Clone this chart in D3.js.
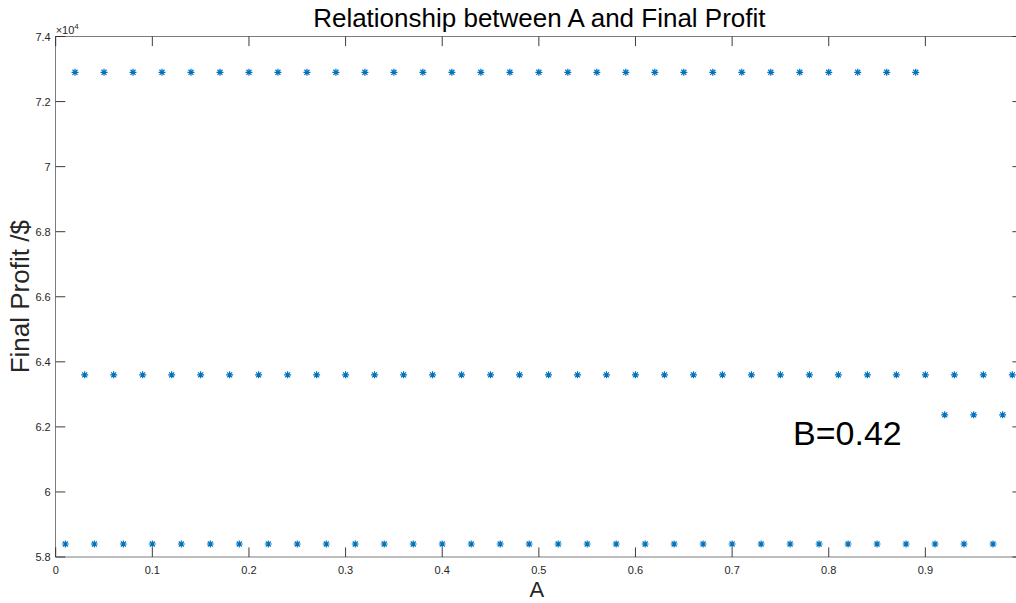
<!DOCTYPE html>
<html>
<head>
<meta charset="utf-8">
<script src="https://cdn.jsdelivr.net/npm/d3@7"></script>
<style>
  html, body { margin: 0; padding: 0; background: #fff; overflow: hidden; }
  svg { display: block; font-family: "Liberation Sans", Arial, Helvetica, sans-serif; }
</style>
</head>
<body>
<svg id="chart" width="1016" height="603"></svg>
<script>
// Parameter A swept from 0.01 to 0.99
const aValues = [
  0.01, 0.02, 0.03, 0.04, 0.05, 0.06, 0.07, 0.08, 0.09, 0.10,
  0.11, 0.12, 0.13, 0.14, 0.15, 0.16, 0.17, 0.18, 0.19, 0.20,
  0.21, 0.22, 0.23, 0.24, 0.25, 0.26, 0.27, 0.28, 0.29, 0.30,
  0.31, 0.32, 0.33, 0.34, 0.35, 0.36, 0.37, 0.38, 0.39, 0.40,
  0.41, 0.42, 0.43, 0.44, 0.45, 0.46, 0.47, 0.48, 0.49, 0.50,
  0.51, 0.52, 0.53, 0.54, 0.55, 0.56, 0.57, 0.58, 0.59, 0.60,
  0.61, 0.62, 0.63, 0.64, 0.65, 0.66, 0.67, 0.68, 0.69, 0.70,
  0.71, 0.72, 0.73, 0.74, 0.75, 0.76, 0.77, 0.78, 0.79, 0.80,
  0.81, 0.82, 0.83, 0.84, 0.85, 0.86, 0.87, 0.88, 0.89, 0.90,
  0.91, 0.92, 0.93, 0.94, 0.95, 0.96, 0.97, 0.98, 0.99
];

// Final profit ($) for each A, with B fixed at 0.42
const profitValues = [
  58400, 72900, 63600, 58400, 72900, 63600, 58400, 72900, 63600, 58400,
  72900, 63600, 58400, 72900, 63600, 58400, 72900, 63600, 58400, 72900,
  63600, 58400, 72900, 63600, 58400, 72900, 63600, 58400, 72900, 63600,
  58400, 72900, 63600, 58400, 72900, 63600, 58400, 72900, 63600, 58400,
  72900, 63600, 58400, 72900, 63600, 58400, 72900, 63600, 58400, 72900,
  63600, 58400, 72900, 63600, 58400, 72900, 63600, 58400, 72900, 63600,
  58400, 72900, 63600, 58400, 72900, 63600, 58400, 72900, 63600, 58400,
  72900, 63600, 58400, 72900, 63600, 58400, 72900, 63600, 58400, 72900,
  63600, 58400, 72900, 63600, 58400, 72900, 63600, 58400, 72900, 63600,
  58400, 62370, 63600, 58400, 62370, 63600, 58400, 62370, 63600
];

// Tick positions; the x labels run to 0.9 (the 1.0 tick sits on the far edge)
const xTicks = [0, 0.1, 0.2, 0.3, 0.4, 0.5, 0.6, 0.7, 0.8, 0.9, 1];
const xTickLabels = ["0", "0.1", "0.2", "0.3", "0.4", "0.5", "0.6", "0.7", "0.8", "0.9"];
const yTicks = [58000, 60000, 62000, 64000, 66000, 68000, 70000, 72000, 74000];
const yTickLabels = ["5.8", "6", "6.2", "6.4", "6.6", "6.8", "7", "7.2", "7.4"];

const titleText = "Relationship between A and Final Profit";
const xLabelText = "A";
const yLabelText = "Final Profit /$";
const annotationText = "B=0.42";

const svg = d3.select("#chart");
const plot = { left: 55.7, right: 1022, top: 36.5, bottom: 557 };

const x = d3.scaleLinear().domain([0, 1]).range([plot.left, plot.right]);
const y = d3.scaleLinear().domain([58000, 74000]).range([plot.bottom, plot.top]);

const axisColor = "#262626";
const tickLen = 9.6;

// Axis box
svg.append("rect")
  .attr("x", plot.left).attr("y", plot.top)
  .attr("width", plot.right - plot.left).attr("height", plot.bottom - plot.top)
  .attr("fill", "none").attr("stroke", axisColor).attr("stroke-width", 0.6);

// Inward ticks on all four sides
const tickG = svg.append("g").attr("stroke", axisColor).attr("stroke-width", 0.9);
xTicks.forEach(t => {
  tickG.append("line").attr("x1", x(t)).attr("x2", x(t))
    .attr("y1", plot.bottom).attr("y2", plot.bottom - tickLen);
  tickG.append("line").attr("x1", x(t)).attr("x2", x(t))
    .attr("y1", plot.top).attr("y2", plot.top + tickLen);
});
yTicks.forEach(t => {
  tickG.append("line").attr("x1", plot.left).attr("x2", plot.left + tickLen)
    .attr("y1", y(t)).attr("y2", y(t));
  tickG.append("line").attr("x1", plot.right).attr("x2", plot.right - tickLen)
    .attr("y1", y(t)).attr("y2", y(t));
});

// Tick labels
svg.append("g").selectAll("text").data(xTickLabels).join("text")
  .attr("x", (d, i) => x(xTicks[i])).attr("y", plot.bottom + 17)
  .attr("text-anchor", "middle").attr("font-size", 11).attr("fill", axisColor)
  .text(d => d);

svg.append("g").selectAll("text").data(yTicks).join("text")
  .attr("x", plot.left - 5).attr("y", d => y(d) + 4)
  .attr("text-anchor", "end").attr("font-size", 11).attr("fill", axisColor)
  .text((d, i) => yTickLabels[i]);

// Exponent multiplier
const expText = svg.append("text").attr("x", plot.left).attr("y", plot.top - 3)
  .attr("font-size", 11).attr("fill", axisColor);
expText.append("tspan").text("\u00d710");
expText.append("tspan").attr("dy", -5).attr("font-size", 8).text("4");

// Asterisk markers
const markerColor = "#0072BD";
const r = 3.5, rd = r * 0.72;
const starPath = `M${-r},0L${r},0M0,${-r}L0,${r}M${-rd},${-rd}L${rd},${rd}M${-rd},${rd}L${rd},${-rd}`;
svg.append("g").selectAll("path").data(aValues.map((a, i) => [a, profitValues[i]]))
  .join("path")
  .attr("transform", d => `translate(${x(d[0])},${y(d[1])})`)
  .attr("d", starPath)
  .attr("stroke", markerColor).attr("stroke-width", 1.2).attr("fill", "none");

// Title and axis labels
svg.append("text").attr("x", (plot.left + plot.right) / 2 + 0.5).attr("y", 27)
  .attr("text-anchor", "middle").attr("font-size", 26).attr("fill", "#000")
  .text(titleText);

svg.append("text").attr("x", (plot.left + plot.right) / 2 - 2).attr("y", 597)
  .attr("text-anchor", "middle").attr("font-size", 22).attr("fill", axisColor)
  .text(xLabelText);

svg.append("text")
  .attr("transform", `translate(29,${(plot.top + plot.bottom) / 2}) rotate(-90)`)
  .attr("text-anchor", "middle").attr("font-size", 26).attr("fill", axisColor)
  .text(yLabelText);

// Annotation for the fixed B value
svg.append("text").attr("x", 793).attr("y", 445)
  .attr("font-size", 34).attr("fill", "#000")
  .text(annotationText);
</script>
</body>
</html>
